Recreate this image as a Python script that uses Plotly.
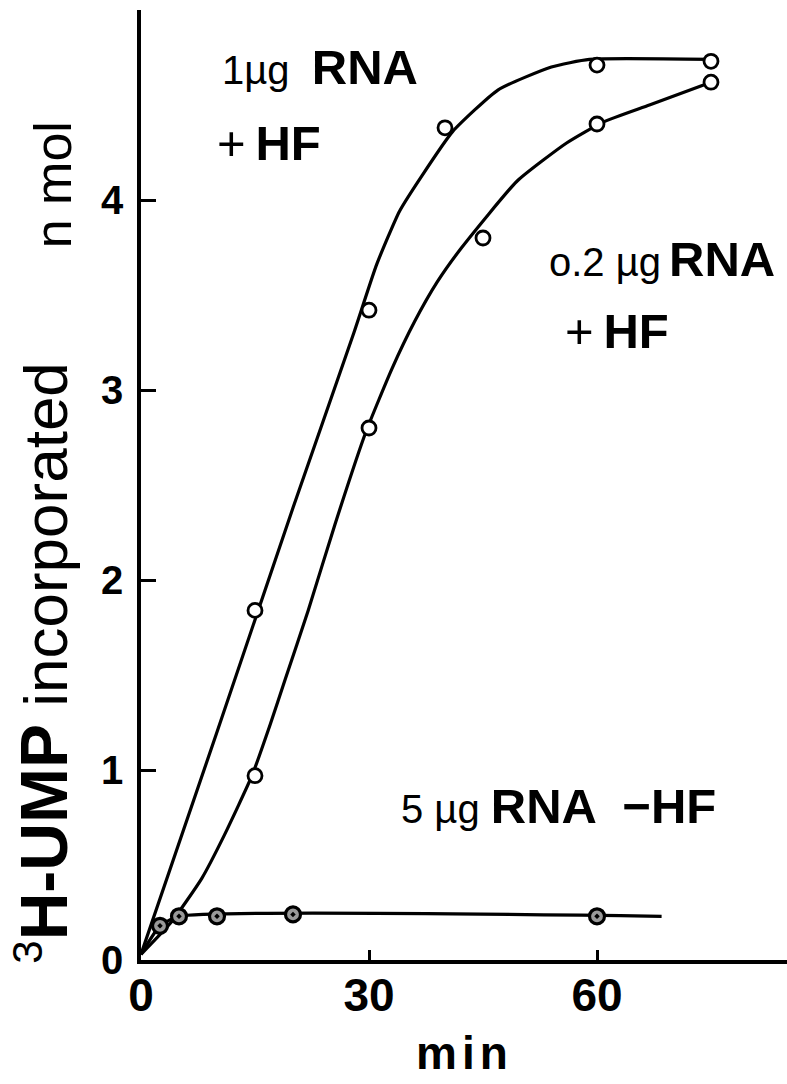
import plotly.graph_objects as go

# ---- data ----
# 1 µg RNA + HF (measured points)
upper_x = [15, 30, 40, 60, 75]
upper_y = [1.84, 3.42, 4.38, 4.71, 4.73]
# hand-drawn fitted curve for 1 µg RNA + HF
upper_curve_x = [0, 10, 20, 28, 31, 34, 37, 41, 47, 54, 59, 75]
upper_curve_y = [0.03, 1.20, 2.38, 3.30, 3.66, 3.94, 4.13, 4.36, 4.58, 4.70, 4.74, 4.74]

# 0.2 µg RNA + HF (measured points)
lower_x = [15, 30, 45, 60, 75]
lower_y = [0.97, 2.80, 3.80, 4.40, 4.62]
# fitted curve for 0.2 µg RNA + HF
lower_curve_x = [0, 4, 8, 11, 14.6, 17, 19, 22, 25.5, 29.6, 33, 36, 39, 42.2, 49.5, 56, 60.8, 66.9, 75]
lower_curve_y = [0.03, 0.20, 0.43, 0.66, 0.97, 1.24, 1.48, 1.84, 2.29, 2.78, 3.11, 3.36, 3.57, 3.75, 4.10, 4.30, 4.41, 4.50, 4.62]

# 5 µg RNA - HF (measured points)
flat_x = [2.5, 5, 10, 20, 60]
flat_y = [0.18, 0.23, 0.23, 0.24, 0.23]
flat_curve_x = [0, 2.5, 5, 68.5]
flat_curve_y = [0.03, 0.18, 0.23, 0.23]

x_ticks = [0, 30, 60]
y_ticks = [0, 1, 2, 3, 4]

FONT = "Liberation Sans, Arial, sans-serif"
BLACK = "#000000"

fig = go.Figure()

for cx, cy in [(upper_curve_x, upper_curve_y), (lower_curve_x, lower_curve_y), (flat_curve_x, flat_curve_y)]:
    fig.add_trace(go.Scatter(x=cx, y=cy, mode="lines",
                             line=dict(color=BLACK, width=3.2, shape="spline", smoothing=0.5),
                             showlegend=False, hoverinfo="skip"))

for px, py in [(upper_x, upper_y), (lower_x, lower_y)]:
    fig.add_trace(go.Scatter(x=px, y=py, mode="markers",
                             marker=dict(symbol="circle", size=14, color="white",
                                         line=dict(color=BLACK, width=2.8)),
                             showlegend=False))

fig.add_trace(go.Scatter(x=flat_x, y=flat_y, mode="markers",
                         marker=dict(symbol="circle-dot", size=15, color="#9a9a9a",
                                     line=dict(color=BLACK, width=3.2)),
                         showlegend=False))

SMALL = "<span style='font-size:40px'>{}</span>"
annotations = [
    dict(x=10.4, y=4.70, text=SMALL.format("1µg  ") + "<b>RNA</b>"),
    dict(x=9.8, y=4.30, text="+\u2009<b>HF</b>"),
    dict(x=53.4, y=3.69, text=SMALL.format("o.2 µg\u2009") + "<b>RNA</b>"),
    dict(x=55.5, y=3.31, text="+\u2009<b>HF</b>"),
    dict(x=34.0, y=0.81, text=SMALL.format("5 µg ") + "<b>RNA  −HF</b>"),
]
for a in annotations:
    a.update(xref="x", yref="y", xanchor="left", yanchor="middle", showarrow=False,
             font=dict(family=FONT, size=49, color=BLACK))
fig.update_layout(annotations=annotations)

# y-axis title (rotated), split so the gap before "n mol" matches the original
fig.add_annotation(
    x=-0.089, y=-0.006, xref="paper", yref="paper",
    text="<span style='font-size:60px'><sup>3</sup></span><b><span style='font-size:66px'>H-UMP</span></b> incorporated",
    textangle=-90, showarrow=False, xanchor="right", yanchor="bottom",
    font=dict(family=FONT, size=62, color=BLACK),
)
fig.add_annotation(
    x=-0.089, y=0.885, xref="paper", yref="paper",
    text="n mol",
    textangle=-90, showarrow=False, xanchor="right", yanchor="top",
    font=dict(family=FONT, size=52, color=BLACK),
)
# x-axis title
fig.add_annotation(
    x=0.5015, y=-0.098, xref="paper", yref="paper",
    text="<b><span style='letter-spacing:5px'>min</span></b>",
    showarrow=False, xanchor="center", yanchor="middle",
    font=dict(family=FONT, size=46, color=BLACK),
)

fig.update_layout(
    width=787, height=1084,
    margin=dict(l=141, r=0, t=10, b=124),
    paper_bgcolor="white", plot_bgcolor="white",
    showlegend=False,
    xaxis=dict(range=[0, 85], tickvals=x_ticks, ticktext=[f"<b>{v}</b>" for v in x_ticks],
               ticks="inside", ticklen=10, tickwidth=3, tickcolor=BLACK,
               showline=True, linecolor=BLACK, linewidth=3.5, showgrid=False, zeroline=False,
               tickfont=dict(family=FONT, size=46, color=BLACK), ticklabelstandoff=-8),
    yaxis=dict(range=[0, 5.0], tickvals=y_ticks, ticktext=[f"<b>{v}</b>" for v in y_ticks],
               ticks="inside", ticklen=15, tickwidth=3, tickcolor=BLACK,
               showline=True, linecolor=BLACK, linewidth=3.5, showgrid=False, zeroline=False,
               tickfont=dict(family=FONT, size=40, color=BLACK), ticklabelstandoff=6),
)

fig.write_html("out.html")
